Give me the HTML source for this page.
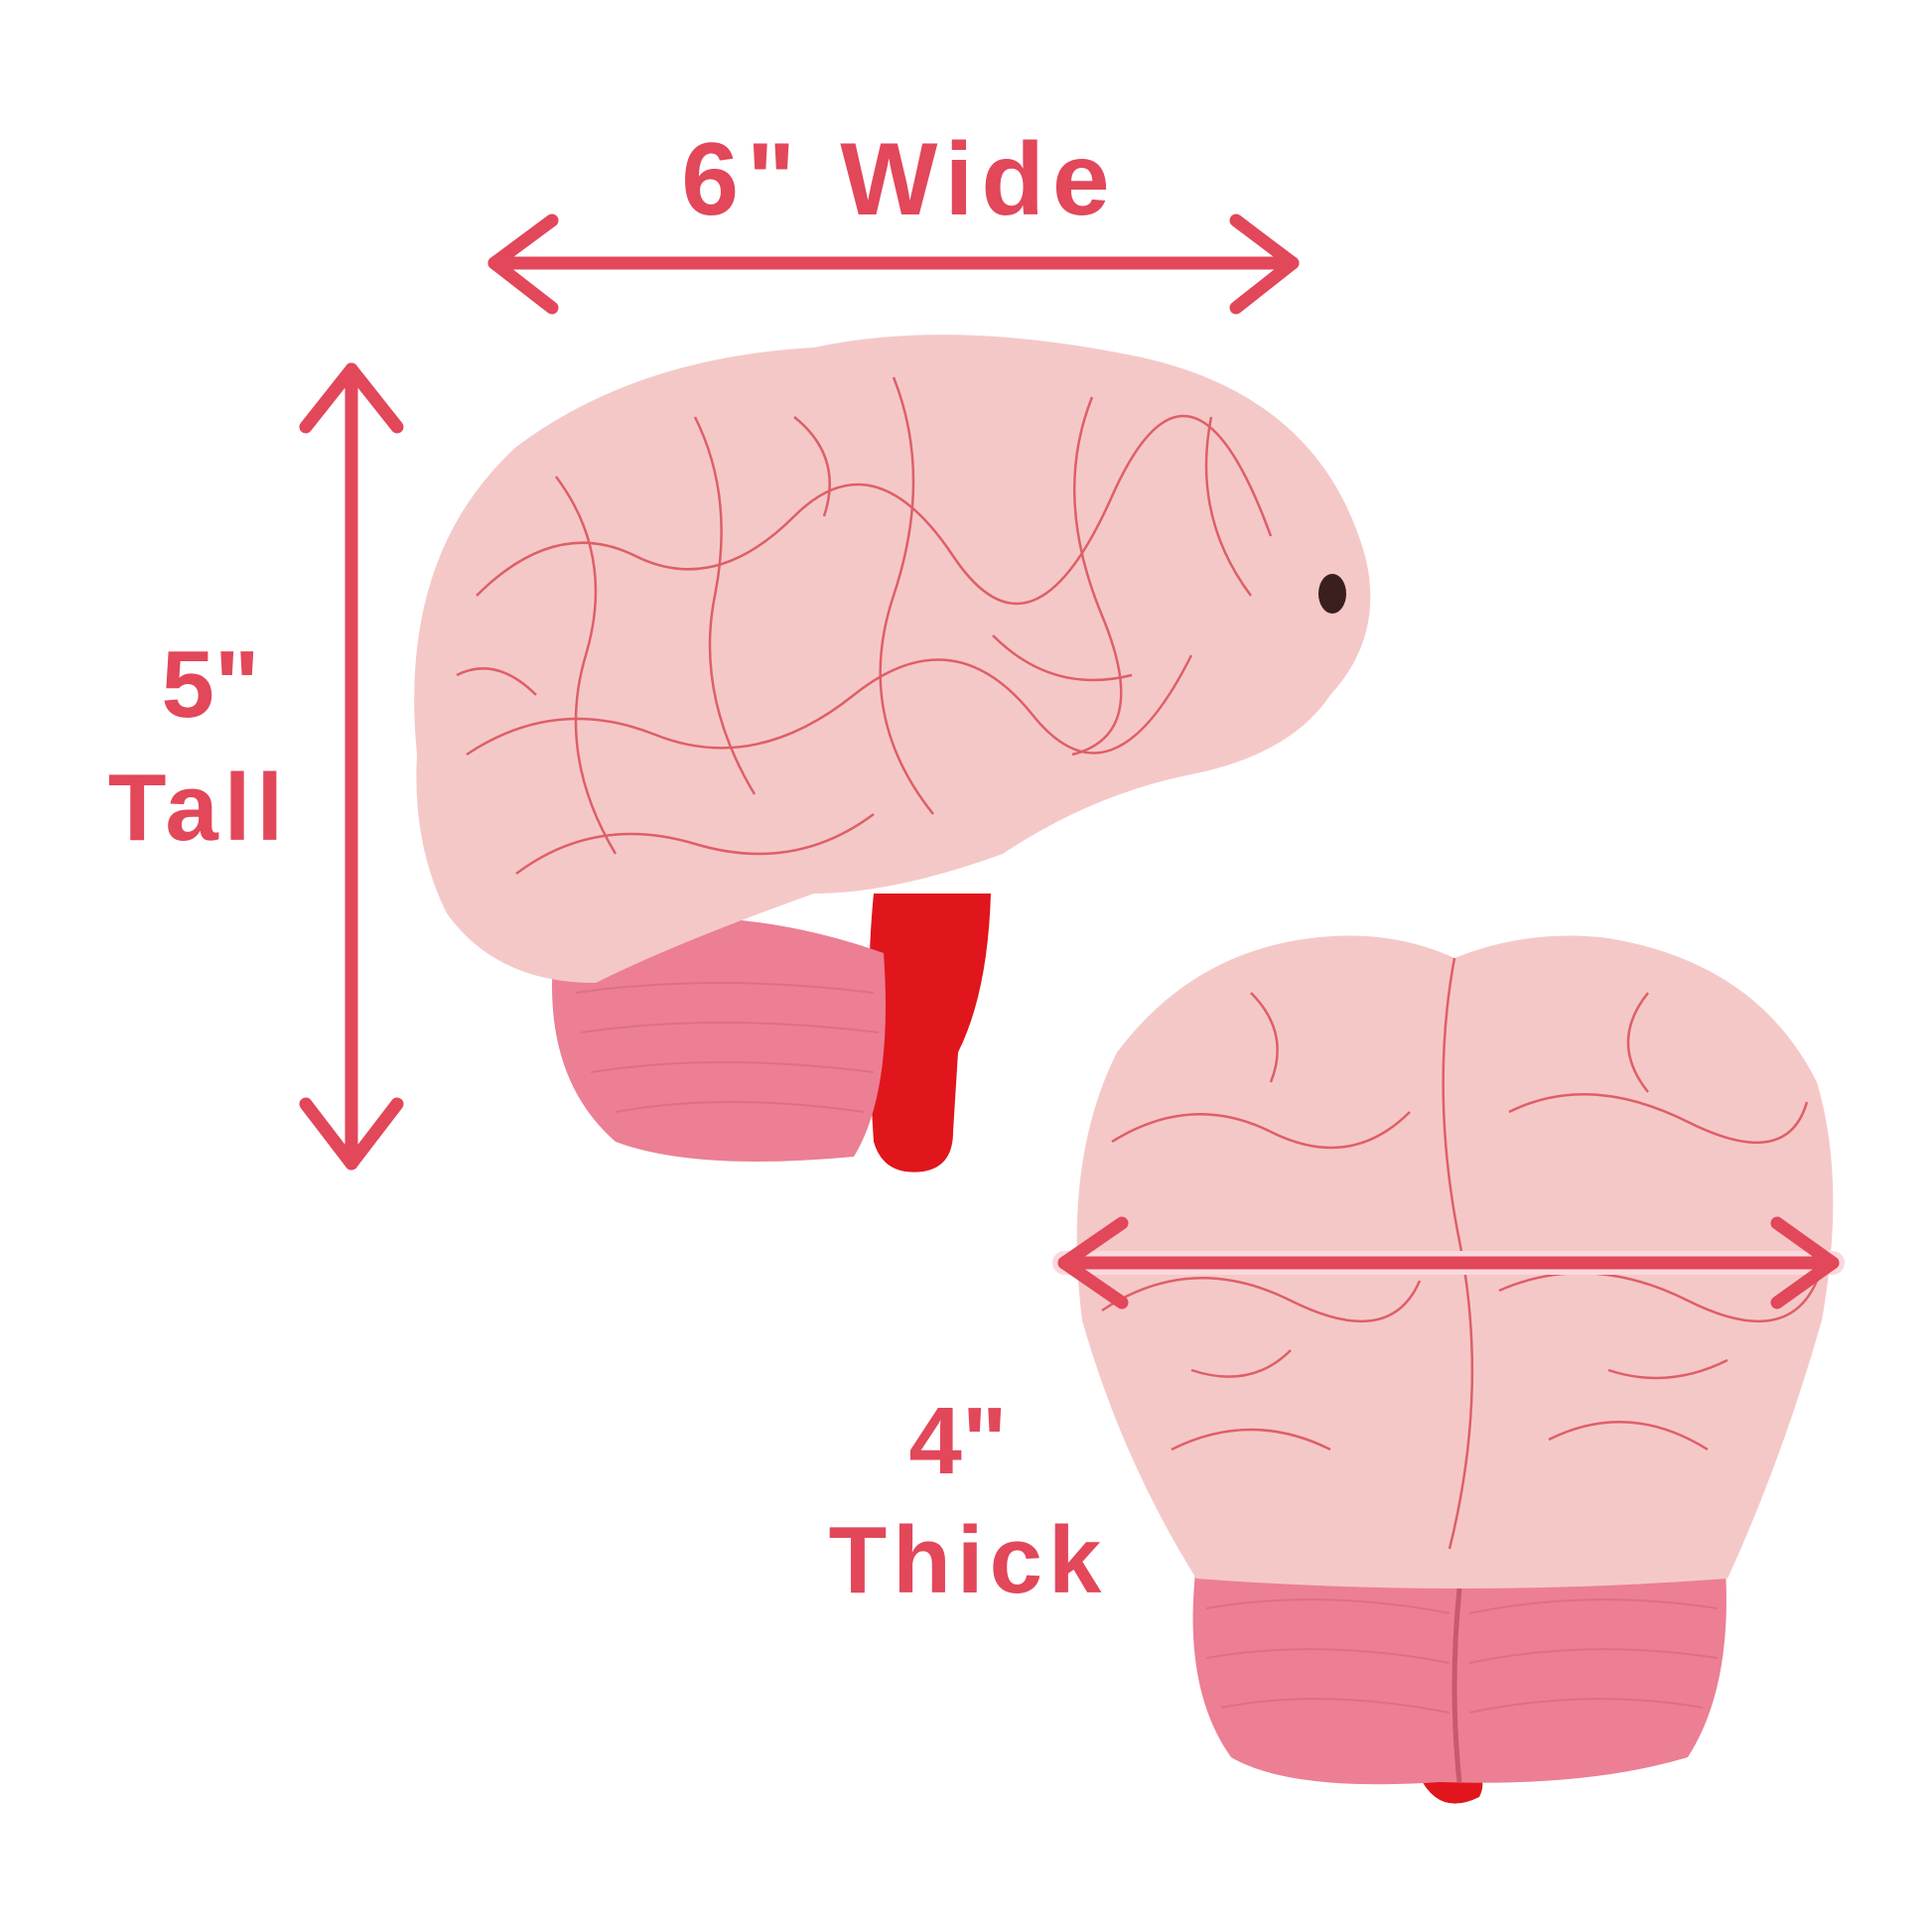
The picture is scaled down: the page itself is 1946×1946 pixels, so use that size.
<!DOCTYPE html>
<html><head><meta charset="utf-8"><style>
html,body{margin:0;padding:0;background:#fff}
svg{display:block}
text{font-family:"Liberation Sans",sans-serif;font-weight:bold;fill:#e2475a}
</style></head><body>
<svg width="1946" height="1946" viewBox="0 0 1946 1946" xmlns="http://www.w3.org/2000/svg">
<!-- side brain -->
<g>
<path d="M880 900 Q870 1000 880 1150 Q890 1185 930 1180 Q960 1175 960 1140 L965 1060 Q995 1000 998 900 Z" fill="#e0161c"/>
<path d="M560 940 Q540 1080 620 1150 Q700 1180 860 1165 Q900 1100 890 960 Q720 900 560 940Z" fill="#ec7f93"/>
<g stroke="#d96a80" stroke-width="2" fill="none" opacity="0.7">
<path d="M580 1000 Q720 980 880 1000"/><path d="M585 1040 Q720 1020 885 1040"/><path d="M595 1080 Q720 1060 880 1080"/><path d="M620 1120 Q730 1100 870 1120"/>
</g>
<path d="M420 760 Q400 560 520 450 Q640 360 820 350 Q960 320 1150 360 Q1330 400 1375 560 Q1395 640 1340 700 Q1300 760 1200 780 Q1100 800 1010 860 Q900 900 820 900 Q680 950 600 990 Q500 990 450 920 Q415 850 420 760Z" fill="#f5c8c8"/>
<g stroke="#d9454f" stroke-width="2.5" fill="none" opacity="0.8">
<path d="M480 600 Q560 520 640 560 T800 520 T960 560 T1120 500 T1280 540"/>
<path d="M470 760 Q560 700 660 740 T860 700 T1040 720 T1200 660"/>
<path d="M520 880 Q600 820 700 850 T880 820"/>
<path d="M700 420 Q740 500 720 600 T760 800"/>
<path d="M900 380 Q940 480 900 600 T940 820"/>
<path d="M1100 400 Q1060 500 1110 620 T1080 760"/>
<path d="M560 480 Q620 560 590 660 T620 860"/>
<path d="M1220 420 Q1200 520 1260 600"/>
<path d="M1000 640 Q1060 700 1140 680"/>
<path d="M800 420 Q850 460 830 520"/>
<path d="M460 680 Q500 660 540 700"/>
</g>
<ellipse cx="1342" cy="598" rx="14" ry="20" fill="#3a1f1f"/>
</g>
<!-- front brain -->
<g>
<path d="M1430 1790 Q1450 1830 1490 1810 Q1500 1790 1480 1780Z" fill="#e0161c"/>
<path d="M1205 1575 Q1190 1700 1240 1770 Q1300 1805 1450 1795 Q1600 1800 1700 1770 Q1745 1700 1738 1580 Z" fill="#ec7f93"/>
<g stroke="#d96a80" stroke-width="2" fill="none" opacity="0.7">
<path d="M1215 1620 Q1330 1600 1460 1625"/><path d="M1480 1625 Q1600 1600 1730 1620"/>
<path d="M1215 1670 Q1330 1650 1460 1675"/><path d="M1480 1675 Q1600 1650 1730 1670"/>
<path d="M1230 1720 Q1330 1700 1460 1725"/><path d="M1480 1725 Q1600 1700 1715 1720"/>
</g>
<path d="M1470 1600 Q1460 1700 1470 1795" stroke="#c85a6e" stroke-width="5" fill="none"/>
<path d="M1205 1590 Q1130 1470 1090 1330 Q1070 1170 1125 1060 Q1200 960 1320 945 Q1400 935 1465 965 Q1540 935 1620 945 Q1770 970 1830 1090 Q1860 1190 1835 1330 Q1795 1470 1740 1590 Q1470 1610 1205 1590Z" fill="#f5c8c8"/>
<g stroke="#d9454f" stroke-width="2.5" fill="none" opacity="0.8">
<path d="M1465 965 Q1440 1100 1470 1250 T1460 1560"/>
<path d="M1120 1150 Q1200 1100 1280 1140 T1420 1120"/>
<path d="M1520 1120 Q1600 1080 1700 1130 T1820 1110"/>
<path d="M1110 1320 Q1200 1260 1300 1310 T1430 1290"/>
<path d="M1510 1300 Q1600 1260 1700 1310 T1830 1290"/>
<path d="M1180 1460 Q1260 1420 1340 1460"/>
<path d="M1560 1450 Q1640 1410 1720 1460"/>
<path d="M1260 1000 Q1300 1040 1280 1090"/>
<path d="M1660 1000 Q1620 1050 1660 1100"/>
<path d="M1200 1380 Q1260 1400 1300 1360"/>
<path d="M1620 1380 Q1680 1400 1740 1370"/>
</g>
</g>
<!-- arrows -->
<g stroke="#e2475a" stroke-width="13" stroke-linecap="round" stroke-linejoin="round" fill="none">
<path d="M498 265 L1302 265"/>
<path d="M556 222 L498 265 L556 310"/>
<path d="M1245 222 L1302 265 L1245 310"/>
<path d="M354 372 L354 1172"/>
<path d="M308 430 L354 372 L400 430"/>
<path d="M308 1112 L354 1172 L400 1112"/>
<path d="M1072 1272 L1846 1272" stroke="#fbd8dc" stroke-width="24"/>
<path d="M1072 1272 L1846 1272"/>
<path d="M1130 1232 L1072 1272 L1130 1312"/>
<path d="M1790 1232 L1846 1272 L1790 1312"/>
</g>
<text x="906" y="216" font-size="104" text-anchor="middle" letter-spacing="8">6" Wide</text>
<text x="212" y="722" font-size="96" text-anchor="middle">5"</text>
<text x="200" y="846" font-size="96" text-anchor="middle" letter-spacing="6">Tall</text>
<text x="965" y="1484" font-size="96" text-anchor="middle">4"</text>
<text x="975" y="1604" font-size="96" text-anchor="middle" letter-spacing="6">Thick</text>
</svg>
</body></html>
